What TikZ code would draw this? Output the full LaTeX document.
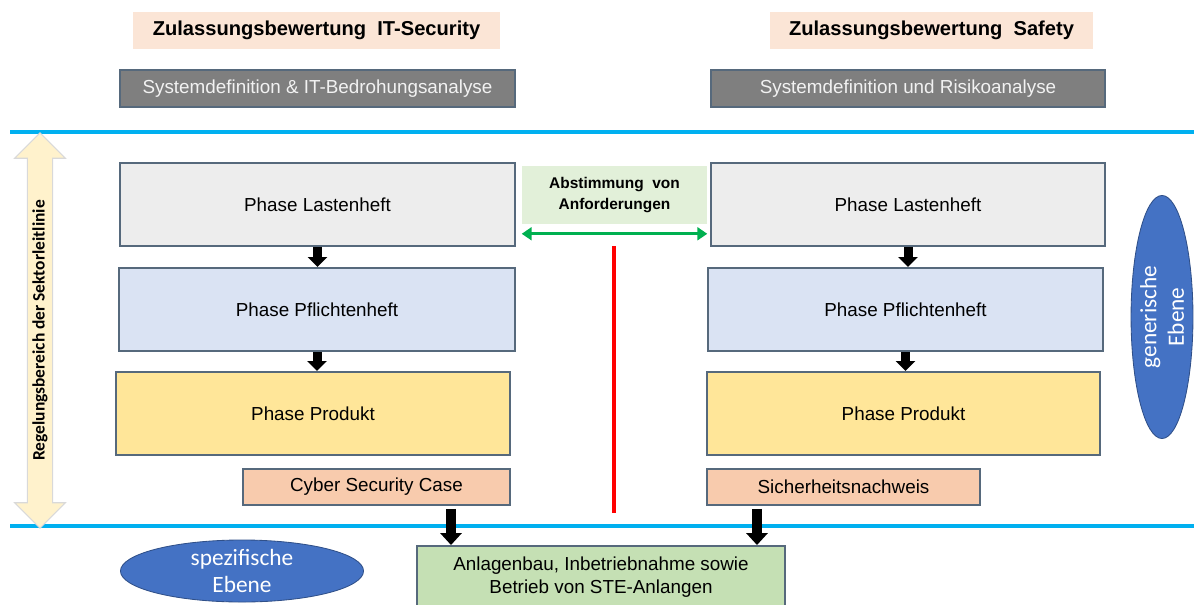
\documentclass[tikz,border=0pt]{standalone}
\usepackage{fontspec}
\setmainfont{Liberation Sans}
\newfontfamily\calibrifont{Carlito}
\usetikzlibrary{shapes.geometric,shapes.arrows,arrows.meta}

\definecolor{titlepink}{HTML}{FBE5D6}
\definecolor{sysgrey}{HTML}{7F7F7F}
\definecolor{boxedge}{HTML}{56697C}
\definecolor{lastengrey}{HTML}{EDEDED}
\definecolor{pflichtblue}{HTML}{DAE3F3}
\definecolor{produktyellow}{HTML}{FFE699}
\definecolor{caseorange}{HTML}{F8CBAD}
\definecolor{abstgreen}{HTML}{E2F0D9}
\definecolor{anlagegreen}{HTML}{C5E0B4}
\definecolor{levelblue}{HTML}{4472C4}
\definecolor{sepblue}{HTML}{00B0F0}
\definecolor{arrowgreen}{HTML}{00B050}
\definecolor{rangebeige}{HTML}{FFF2CC}

\tikzset{
  basefont/.style={font=\fontsize{13.4pt}{16.3pt}\selectfont},
  titlebox/.style={fill=titlepink, minimum height=0.925cm, inner sep=0pt,
    font=\fontsize{14.3pt}{17pt}\selectfont\bfseries},
  sysbox/.style={basefont, draw=boxedge, line width=1.4pt, fill=sysgrey,
    text=white!95!black, minimum height=0.925cm, inner sep=0pt},
  phasebox/.style={basefont, draw=boxedge, line width=1.4pt, fill=#1,
    minimum height=2.075cm, inner sep=0pt},
  casebox/.style={basefont, draw=boxedge, line width=1.4pt, fill=caseorange,
    minimum height=0.9cm, inner sep=0pt},
  level/.style={ellipse, draw=levelblue!70!black, line width=0.6pt, fill=levelblue,
    text=white, inner sep=0pt, align=center,
    font=\calibrifont\fontsize{16.6pt}{19.5pt}\selectfont},
  steparrow/.style={-{Triangle[width=13.5pt,length=7pt]}, line width=6.4pt},
  bigarrow/.style={-{Triangle[width=15pt,length=8.5pt]}, line width=7.8pt},
  sepline/.style={sepblue, line width=2.5pt},
}

\begin{document}
\begin{tikzpicture}[x=0.025cm, y=-0.025cm]
  \useasboundingbox (0,0) rectangle (1194,604);

  % headings of both columns
  \node[titlebox, minimum width=9.175cm] (titleSec) at (316.5,30.5) {Zulassungsbewertung\ \ IT-Security};
  \node[titlebox, minimum width=8.075cm] (titleSaf) at (931.5,30.5) {Zulassungsbewertung\ \ Safety};

  \node[sysbox, minimum width=9.875cm] (sysL) at (317.5,88.5) {Systemdefinition \& IT-Bedrohungsanalyse};
  \node[sysbox, minimum width=9.85cm] (sysR) at (908,88.5) {Systemdefinition und Risikoanalyse};

  % level separators
  \draw[sepline] (10,132) -- (1194,132);
  \draw[sepline] (10,526) -- (1194,526);

  % scope of the sector guideline
  \node[double arrow, rotate=90, draw=black!15, line width=0.8pt, fill=rangebeige,
    minimum height=9.875cm, double arrow head extend=9pt, inner xsep=0pt, inner ysep=3.2pt,
    font=\calibrifont\fontsize{12.4pt}{14pt}\selectfont\bfseries] (scope) at (40,330.5)
    {Regelungsbereich der Sektorleitlinie};

  % phases, IT-Security side
  \node[phasebox=lastengrey, minimum width=9.875cm] (lastL) at (317.5,204.5) {Phase Lastenheft};
  \node[phasebox=pflichtblue, minimum width=9.9cm] (pflL) at (317,309.5) {Phase Pflichtenheft};
  \node[phasebox=produktyellow, minimum width=9.85cm] (prodL) at (313,413.5) {Phase Produkt};
  \node[casebox, minimum width=6.675cm] (caseL) at (376.5,487) {Cyber Security Case};

  % phases, Safety side
  \node[phasebox=lastengrey, minimum width=9.85cm] (lastR) at (908,204.5) {Phase Lastenheft};
  \node[phasebox=pflichtblue, minimum width=9.875cm] (pflR) at (905.5,309.5) {Phase Pflichtenheft};
  \node[phasebox=produktyellow, minimum width=9.825cm] (prodR) at (903.5,413.5) {Phase Produkt};
  \node[casebox, minimum width=6.825cm] (caseR) at (843.5,487) {Sicherheitsnachweis};

  \foreach \s in {L,R} {
    \draw[steparrow] (last\s.south) -- (last\s.south |- pfl\s.north);
    \draw[steparrow] (pfl\s.south) -- (pfl\s.south |- prod\s.north);
  }

  % coordination between both sides
  \node[fill=abstgreen, minimum width=4.625cm, minimum height=1.425cm, align=center,
    font=\fontsize{11pt}{15pt}\selectfont\bfseries] (abst) at (614.5,195) {Abstimmung\ \ von\\Anforderungen};
  \draw[arrowgreen, line width=2pt, {Triangle[width=9pt,length=7pt]}-{Triangle[width=9pt,length=7pt]}]
    ([yshift=-0.25cm]abst.south west) -- ([yshift=-0.25cm]abst.south east);
  \draw[red, line width=2.5pt] (614,246) -- (614,513);

  % specific level
  \node[basefont, draw=boxedge, line width=1.4pt, fill=anlagegreen, minimum width=9.2cm,
    minimum height=1.55cm, align=center] (anlage) at (601,577)
    {Anlagenbau, Inbetriebnahme sowie\\Betrieb von STE-Anlangen};
  \draw[bigarrow] ([xshift=-1.5cm,yshift=-0.075cm]caseL.south east) -- ([xshift=-1.5cm]caseL.south east |- anlage.north);
  \draw[bigarrow] ([xshift=1.275cm,yshift=-0.075cm]caseR.south west) -- ([xshift=1.275cm]caseR.south west |- anlage.north);

  \node[level, minimum width=6.075cm, minimum height=1.55cm] (spez) at (242,571) {spezifische\\Ebene};
  \node[level, rotate=90, minimum width=6.075cm, minimum height=1.475cm] (gen) at (1162,317) {generische\\Ebene};
\end{tikzpicture}
\end{document}
